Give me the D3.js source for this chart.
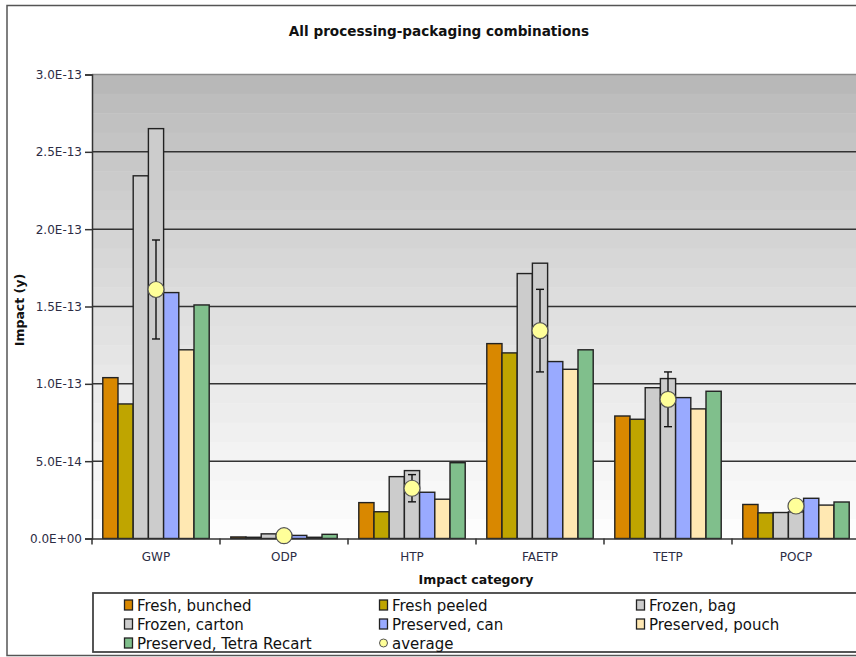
<!DOCTYPE html>
<html>
<head>
<meta charset="utf-8">
<script src="https://cdn.jsdelivr.net/npm/d3@7"></script>
<style>
  html, body { margin: 0; padding: 0; background: #fff; }
  svg { display: block; }
  text { font-family: "DejaVu Sans", Verdana, sans-serif; }
</style>
</head>
<body>
<svg id="chart" width="856" height="657"></svg>
<script>
// Impact categories along the x axis
const categories = ["GWP", "ODP", "HTP", "FAETP", "TETP", "POCP"];

// Processing-packaging combinations (one bar each per category)
const seriesNames = [
  "Fresh, bunched", "Fresh peeled", "Frozen, bag", "Frozen, carton",
  "Preserved, can", "Preserved, pouch", "Preserved, Tetra Recart"
];
const seriesColors = ["#d98800", "#bfa500", "#cccccc", "#cccccc", "#99aaff", "#ffe8b2", "#80bf8c"];

// Values per series, in category order
const freshBunched   = [1.04e-13, 1.0e-15, 2.32e-14, 1.26e-13, 7.92e-14, 2.20e-14];
const freshPeeled    = [8.70e-14, 0.8e-15, 1.73e-14, 1.20e-13, 7.71e-14, 1.66e-14];
const frozenBag      = [2.345e-13, 3.0e-15, 4.00e-14, 1.713e-13, 9.75e-14, 1.68e-14];
const frozenCarton   = [2.65e-13, 2.5e-15, 4.39e-14, 1.78e-13, 1.034e-13, 1.72e-14];
const preservedCan   = [1.59e-13, 2.0e-15, 2.99e-14, 1.144e-13, 9.11e-14, 2.60e-14];
const preservedPouch = [1.22e-13, 0.8e-15, 2.54e-14, 1.094e-13, 8.38e-14, 2.16e-14];
const preservedTetra = [1.51e-13, 2.7e-15, 4.90e-14, 1.22e-13, 9.52e-14, 2.36e-14];
const seriesValues = [freshBunched, freshPeeled, frozenBag, frozenCarton, preservedCan, preservedPouch, preservedTetra];

// Average per category and its error range
const averageValues = [1.61e-13, 1.8e-15, 3.25e-14, 1.344e-13, 9.0e-14, 2.1e-14];
const averageError  = [3.2e-14, 0.3e-15, 0.88e-14, 2.67e-14, 1.77e-14, 0.3e-14];

// Axis ticks
const yTicks = [0, 5e-14, 1e-13, 1.5e-13, 2e-13, 2.5e-13, 3e-13];
const yTickLabels = ["0.0E+00", "5.0E-14", "1.0E-13", "1.5E-13", "2.0E-13", "2.5E-13", "3.0E-13"];

const svg = d3.select("#chart");

const plot = { left: 92, right: 860, top: 74.5, bottom: 538.5 };

const x0 = d3.scaleBand().domain(categories).range([plot.left, plot.right]).padding(0);
const x1 = d3.scaleBand().domain(d3.range(seriesNames.length))
  .range([0, x0.bandwidth()]).paddingInner(0).paddingOuter(0.71);
const y = d3.scaleLinear().domain([0, 3e-13]).range([plot.bottom, plot.top]);

// Outer frame
svg.append("rect").attr("x", 7).attr("y", 5.5).attr("width", 900).attr("height", 650)
  .attr("fill", "#fff").attr("stroke", "#555").attr("stroke-width", 1.5);

// Title
svg.append("text").attr("x", 439).attr("y", 36).attr("text-anchor", "middle")
  .attr("font-size", 13.6).attr("font-weight", "bold").attr("fill", "#111")
  .text("All processing-packaging combinations");

// Plot background: banded grey fading to white towards the baseline
const bands = 24;
const bandH = (plot.bottom - plot.top) / bands;
const shade = d3.interpolateRgb("#b8b8b8", "#fdfdfd");
svg.append("g").selectAll("rect").data(d3.range(bands)).join("rect")
  .attr("x", plot.left).attr("width", plot.right - plot.left)
  .attr("y", i => plot.top + i * bandH).attr("height", bandH + 0.5)
  .attr("fill", i => shade(Math.pow(i / (bands - 1), 0.85)));

// Horizontal gridlines
svg.append("g").selectAll("line").data(yTicks.filter(t => t > 0)).join("line")
  .attr("x1", plot.left).attr("x2", plot.right)
  .attr("y1", d => y(d)).attr("y2", d => y(d))
  .attr("stroke", d => d === 3e-13 ? "#8a8a8a" : "#333")
  .attr("stroke-width", 1.5);

// Y axis
const yAxis = d3.axisLeft(y).tickValues(yTicks)
  .tickFormat((d, i) => yTickLabels[i]).tickSize(7).tickPadding(3);
const gy = svg.append("g").attr("transform", `translate(${plot.left},0)`).call(yAxis);
gy.select(".domain").attr("stroke", "#333").attr("stroke-width", 1.5);
gy.selectAll(".tick line").attr("stroke", "#333").attr("stroke-width", 1.5);
gy.selectAll(".tick text").attr("font-size", 12).attr("fill", "#2c2c44")
  .attr("font-family", "\"DejaVu Sans\", Verdana, sans-serif");

// Bars
const groups = svg.append("g").selectAll("g").data(categories).join("g")
  .attr("transform", d => `translate(${x0(d)},0)`);
groups.selectAll("rect")
  .data((c, ci) => seriesValues.map((vals, si) => ({ si, v: vals[ci] })))
  .join("rect")
  .attr("x", d => x1(d.si)).attr("width", x1.bandwidth())
  .attr("y", d => y(d.v)).attr("height", d => y(0) - y(d.v))
  .attr("fill", d => seriesColors[d.si])
  .attr("stroke", "#222").attr("stroke-width", 1.4);

// X axis: baseline and ticks at category boundaries
const xAxis = d3.axisBottom(x0).tickSize(0).tickPadding(14);
const gx = svg.append("g").attr("transform", `translate(0,${plot.bottom})`).call(xAxis);
gx.select(".domain").attr("stroke", "#333").attr("stroke-width", 1.5);
gx.selectAll(".tick text").attr("font-size", 12).attr("fill", "#2c2c44")
  .attr("font-family", "\"DejaVu Sans\", Verdana, sans-serif");
svg.append("g").selectAll("line").data(categories).join("line")
  .attr("x1", d => x0(d)).attr("x2", d => x0(d))
  .attr("y1", plot.bottom).attr("y2", plot.bottom + 6)
  .attr("stroke", "#333").attr("stroke-width", 1.5);

// Error bars for the average
const cx = c => x0(c) + x0.bandwidth() / 2;
const err = svg.append("g").attr("stroke", "#111").attr("stroke-width", 1.4);
categories.forEach((c, i) => {
  const top = y(averageValues[i] + averageError[i]);
  const bot = y(averageValues[i] - averageError[i]);
  if (bot - top < 3) return;
  err.append("line").attr("x1", cx(c)).attr("x2", cx(c)).attr("y1", top).attr("y2", bot);
  err.append("line").attr("x1", cx(c) - 4).attr("x2", cx(c) + 4).attr("y1", top).attr("y2", top);
  err.append("line").attr("x1", cx(c) - 4).attr("x2", cx(c) + 4).attr("y1", bot).attr("y2", bot);
});

// Average markers
svg.append("g").selectAll("circle").data(categories).join("circle")
  .attr("cx", d => cx(d)).attr("cy", (d, i) => y(averageValues[i]))
  .attr("r", 8).attr("fill", "#ffff99").attr("stroke", "#555").attr("stroke-width", 1.2);

// Axis titles
svg.append("text").attr("x", plot.left + (plot.right - plot.left) / 2).attr("y", 584)
  .attr("text-anchor", "middle").attr("font-size", 12.5).attr("font-weight", "bold")
  .attr("fill", "#111").text("Impact category");
svg.append("text").attr("transform", "translate(24,310) rotate(-90)")
  .attr("text-anchor", "middle").attr("font-size", 12.5).attr("font-weight", "bold")
  .attr("fill", "#111").text("Impact (y)");

// Legend
svg.append("rect").attr("x", 93).attr("y", 593).attr("width", 800).attr("height", 59)
  .attr("fill", "#fff").attr("stroke", "#444").attr("stroke-width", 1.8);
const legendItems = seriesNames.map((n, i) => ({ name: n, color: seriesColors[i], type: "bar" }))
  .concat([{ name: "average", color: "#ffff99", type: "dot" }]);
const colX = [124, 379, 636];
const rowY = [605, 624, 643];
const li = svg.append("g").selectAll("g").data(legendItems).join("g")
  .attr("transform", (d, i) => `translate(${colX[i % 3]},${rowY[Math.floor(i / 3)]})`);
li.filter(d => d.type === "bar").append("rect")
  .attr("x", 0.5).attr("y", -5).attr("width", 8).attr("height", 10)
  .attr("fill", d => d.color).attr("stroke", "#222").attr("stroke-width", 1.3);
li.filter(d => d.type === "dot").append("circle")
  .attr("cx", 4.5).attr("cy", 0).attr("r", 4)
  .attr("fill", d => d.color).attr("stroke", "#555").attr("stroke-width", 1);
li.append("text").attr("x", 13).attr("y", 5.5).attr("font-size", 15).attr("fill", "#111")
  .text(d => d.name);
</script>
</body>
</html>
